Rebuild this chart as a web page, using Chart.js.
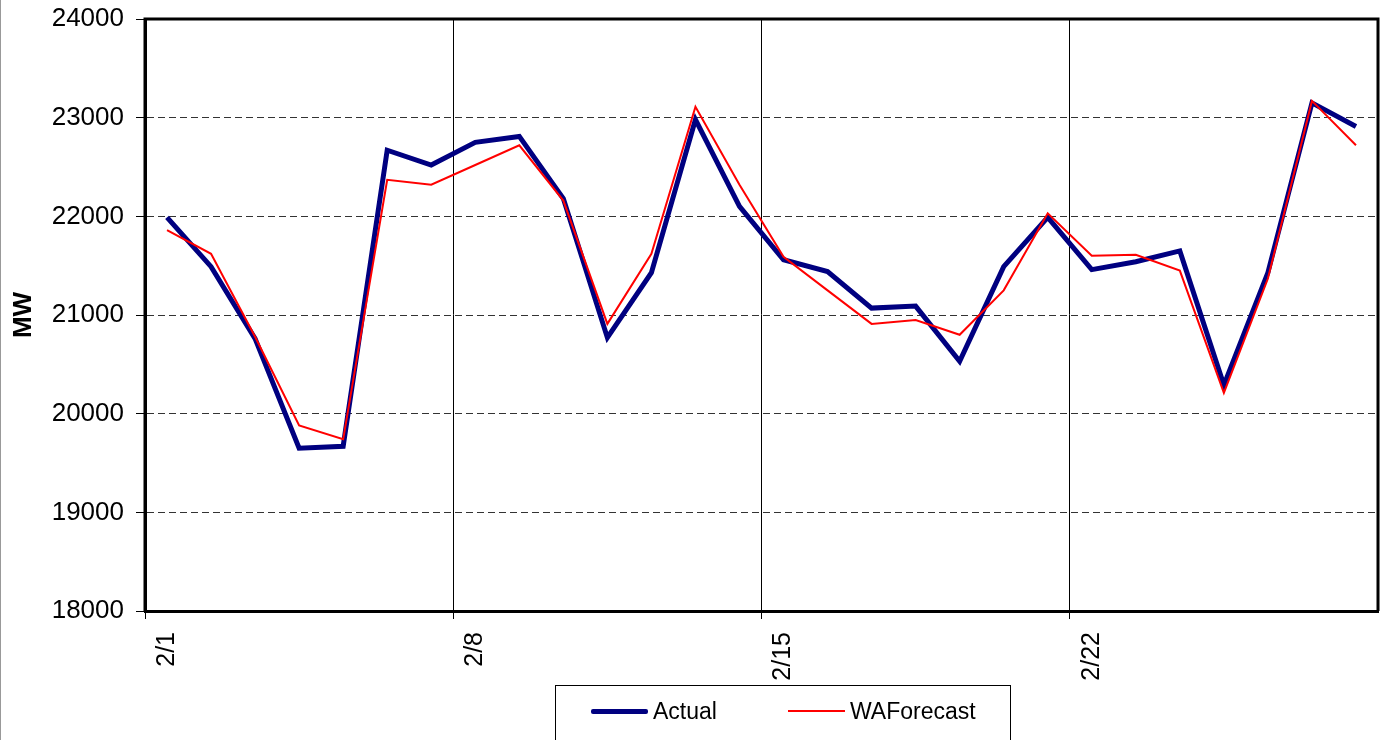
<!DOCTYPE html>
<html>
<head>
<meta charset="utf-8">
<script src="https://cdn.jsdelivr.net/npm/chart.js@4/dist/chart.umd.min.js"></script>
<style>
  body { margin: 0; background: #fff; }
  #wrap { position: relative; width: 1389px; height: 740px; overflow: hidden; }
  #edge { position: absolute; left: 0; top: 0; width: 1px; height: 740px; background: #999; }
  #legend {
    position: absolute; left: 555px; top: 685px; width: 456px; height: 70px;
    border: 1px solid #000; box-sizing: border-box;
    font-family: 'Liberation Sans', Arial, sans-serif; font-size: 23px; color: #000;
  }
  .item { position: absolute; top: 12px; display: flex; align-items: center; height: 26px; }
  .swatch { display: inline-block; width: 57px; margin-right: 5px; }
</style>
</head>
<body>
<div id="wrap">
  <canvas id="loadChart" width="1389" height="740"></canvas>
  <div id="edge"></div>
  <div id="legend"></div>
</div>
<script>
const days = ['2/1', '2/2', '2/3', '2/4', '2/5', '2/6', '2/7', '2/8', '2/9', '2/10',
  '2/11', '2/12', '2/13', '2/14', '2/15', '2/16', '2/17', '2/18', '2/19', '2/20',
  '2/21', '2/22', '2/23', '2/24', '2/25', '2/26', '2/27', '2/28'];

const actual = [21990, 21490, 20760, 19650, 19670, 22670, 22520, 22750, 22810, 22180,
  20770, 21430, 22980, 22100, 21560, 21440, 21070, 21090, 20530, 21490,
  21990, 21460, 21540, 21650, 20290, 21430, 23150, 22910];

const waForecast = [21860, 21620, 20780, 19880, 19740, 22370, 22320, 22520, 22720, 22160,
  20910, 21620, 23110, 22320, 21590, 21250, 20910, 20950, 20800, 21250,
  22030, 21600, 21610, 21450, 20210, 21370, 23170, 22720];

const yTicks = [18000, 19000, 20000, 21000, 22000, 23000, 24000];

const FONT = "'Liberation Sans', Arial, sans-serif";

// top + right frame of the plot area
const frameBorder = {
    id: 'frameBorder',
    beforeDatasetsDraw(chart) {
        const {ctx, chartArea: {left, top, right, bottom}} = chart;
        ctx.save();
        ctx.strokeStyle = '#000';
        ctx.lineWidth = 3;
        ctx.beginPath();
        ctx.moveTo(left, bottom);
        ctx.lineTo(left, top);
        ctx.lineTo(right, top);
        ctx.lineTo(right, bottom);
        ctx.stroke();
        ctx.restore();
    }
};

const weekly = (i) => i % 7 === 0;

const chart = new Chart(document.getElementById('loadChart'), {
    type: 'line',
    data: {
        labels: days,
        datasets: [
            {
                label: 'WAForecast',
                data: waForecast,
                borderColor: '#FF0000',
                borderWidth: 2,
                pointRadius: 0,
                tension: 0,
                order: 1
            },
            {
                label: 'Actual',
                data: actual,
                borderColor: '#000080',
                borderWidth: 5,
                pointRadius: 0,
                tension: 0,
                order: 2
            }
        ]
    },
    options: {
        responsive: false,
        animation: false,
        layout: { padding: { top: 19, right: 11, left: 0, bottom: 0 } },
        plugins: {
            legend: { display: false },
            tooltip: { enabled: false }
        },
        scales: {
            x: {
                type: 'category',
                offset: true,
                afterFit(scale) {
                    scale.height = 129;
                    scale.paddingLeft = 0;
                    scale.paddingRight = 0;
                },
                border: { color: '#000', width: 3 },
                grid: {
                    offset: true,
                    color: (c) => weekly(c.index) ? '#000' : 'rgba(0,0,0,0)',
                    tickColor: (c) => weekly(c.index) ? '#000' : 'rgba(0,0,0,0)',
                    lineWidth: 1,
                    tickLength: 8
                },
                ticks: {
                    autoSkip: false,
                    minRotation: 90,
                    maxRotation: 90,
                    padding: 13,
                    color: '#000',
                    font: { family: FONT, size: 25 },
                    callback(value, i) {
                        return weekly(i) ? days[i] : '';
                    }
                }
            },
            y: {
                min: yTicks[0],
                max: yTicks[yTicks.length - 1],
                afterFit(scale) {
                    scale.width = 145;
                    scale.paddingTop = 0;
                    scale.paddingBottom = 0;
                },
                afterBuildTicks(scale) {
                    scale.ticks = yTicks.map(v => ({ value: v }));
                },
                border: { color: '#000', width: 3, dash: [7, 4] },
                grid: {
                    color: '#333',
                    lineWidth: 1,
                    tickBorderDash: [],
                    tickColor: '#000',
                    tickLength: 9
                },
                ticks: {
                    padding: 12,
                    color: '#000',
                    font: { family: FONT, size: 26 },
                    callback(value) { return String(value); }
                },
                title: {
                    display: true,
                    text: 'MW',
                    color: '#000',
                    padding: { top: 8, bottom: 0 },
                    font: { family: FONT, size: 26, weight: 'bold' }
                }
            }
        }
    },
    plugins: [frameBorder]
});

// legend box built from the dataset styles
const legendEl = document.getElementById('legend');
const legendOrder = ['Actual', 'WAForecast'];
const legendLeft = [35, 232];
legendOrder.forEach((name, k) => {
    const ds = chart.data.datasets.find(d => d.label === name);
    const item = document.createElement('div');
    item.className = 'item';
    item.style.left = legendLeft[k] + 'px';
    const sw = document.createElement('span');
    sw.className = 'swatch';
    sw.style.height = ds.borderWidth + 'px';
    sw.style.background = ds.borderColor;
    sw.style.borderRadius = ds.borderWidth > 2 ? '2px' : '0';
    item.appendChild(sw);
    item.appendChild(document.createTextNode(ds.label));
    legendEl.appendChild(item);
});
</script>
</body>
</html>
